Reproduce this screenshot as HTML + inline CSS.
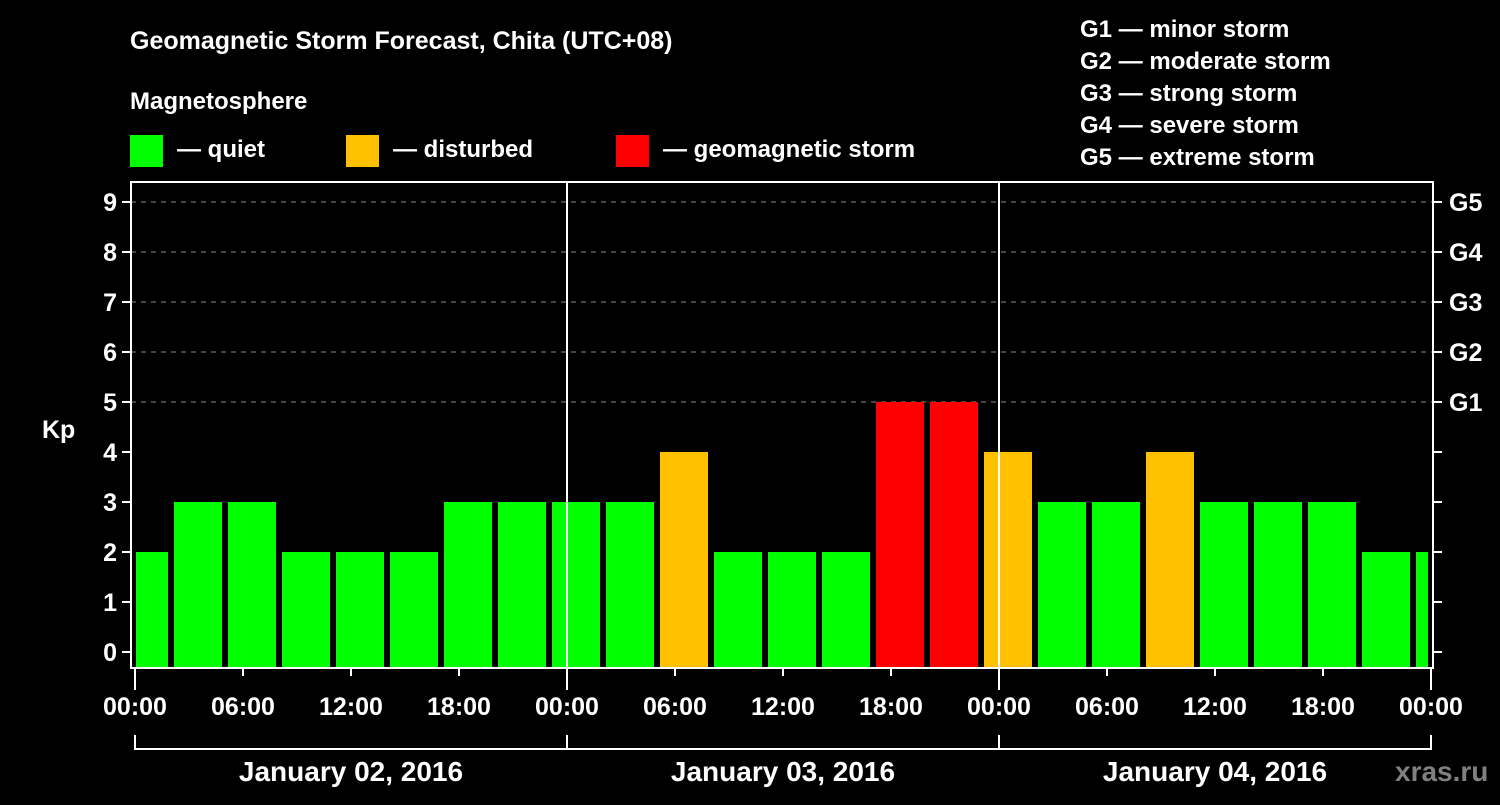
<!DOCTYPE html>
<html><head><meta charset="utf-8"><style>
body{margin:0;background:#000;}
svg text{font-family:"Liberation Sans",Arial,sans-serif;font-weight:bold;fill:#fff;}
</style></head><body>
<svg id="c" width="1500" height="800" viewBox="0 0 1500 800" xmlns="http://www.w3.org/2000/svg">
<rect width="1500" height="800" fill="#000"/>
<text x="130" y="49" font-size="25">Geomagnetic Storm Forecast, Chita (UTC+08)</text>
<text x="130" y="109" font-size="24">Magnetosphere</text>
<g><rect x="130" y="135" width="33" height="32" fill="#00ff00"/><text x="177" y="157" font-size="24">— quiet</text></g>
<g><rect x="346" y="135" width="33" height="32" fill="#ffc000"/><text x="393" y="157" font-size="24">— disturbed</text></g>
<g><rect x="616" y="135" width="33" height="32" fill="#ff0000"/><text x="663" y="157" font-size="24">— geomagnetic storm</text></g>
<g font-size="24">
<text x="1080" y="37">G1 — minor storm</text>
<text x="1080" y="69">G2 — moderate storm</text>
<text x="1080" y="101">G3 — strong storm</text>
<text x="1080" y="133">G4 — severe storm</text>
<text x="1080" y="165">G5 — extreme storm</text>
</g>
<text x="42" y="438" font-size="25">Kp</text>
<g id="grid"></g><g id="bars"></g><g id="axes"></g>
<text x="1395" y="781" font-size="28" style="fill:#808080">xras.ru</text>
</svg>
<script>
const kpValues=[2,3,3,2,2,2,3,3,3,3,4,2,2,2,5,5,4,3,3,4,3,3,3,2,2];
const startHour=-1;
const dayLabels=["January 02, 2016","January 03, 2016","January 04, 2016"];
const gLabels=["G1","G2","G3","G4","G5"];
const xTickLabels=["00:00","06:00","12:00","18:00","00:00","06:00","12:00","18:00","00:00","06:00","12:00","18:00","00:00"];
const NS="http://www.w3.org/2000/svg";
const X0=135,PX=18,Y0=652,PY=50,L=131,R=1433,T=182,B=668;
const x=h=>X0+h*PX, y=v=>Y0-v*PY;
function mk(p,tag,a){const e=document.createElementNS(NS,tag);for(const k in a)e.setAttribute(k,a[k]);document.getElementById(p).appendChild(e);return e;}
for(let v=0;v<=9;v++){
 if(v>=5){const g=mk('grid','line',{x1:L,x2:R,y1:y(v),y2:y(v),stroke:'#888','stroke-dasharray':'5,5'});}
 const t=mk('axes','line',{x1:L-9,x2:L,y1:y(v),y2:y(v),stroke:'#fff','stroke-width':2});
 
 const t2=mk('axes','line',{x1:R,x2:R+9,y1:y(v),y2:y(v),stroke:'#fff','stroke-width':2});
 
 const lb=mk('axes','text',{x:L-14,y:y(v)+9,'font-size':25,'text-anchor':'end'});lb.textContent=v;
 
 if(v>=5){const gl=mk('axes','text',{x:R+16,y:y(v)+9,'font-size':25});gl.textContent=gLabels[v-5];
 }
}
kpValues.forEach((v,i)=>{
 const h=startHour+i*3;let x1=x(h)+3,x2=x(h+3)-3;
 x1=Math.max(x1,X0+1);x2=Math.min(x2,R-5);
 const c=v>=5?'#ff0000':(v>=4?'#ffc000':'#00ff00');
 const b=mk('bars','rect',{x:x1,y:y(v),width:x2-x1,height:B-y(v),fill:c});
 
});
[1,2].forEach(d=>{const l=mk('axes','line',{x1:x(d*24),x2:x(d*24),y1:T,y2:B,stroke:'#fff','stroke-width':2});});
const fr=mk('axes','rect',{x:L,y:T,width:R-L,height:B-T,fill:'none',stroke:'#fff','stroke-width':2});

xTickLabels.forEach((s,i)=>{
 const xx=x(i*6),major=i%4==0;
 const t=mk('axes','line',{x1:xx,x2:xx,y1:B,y2:major?690:676,stroke:'#fff','stroke-width':2});
 
 const lb=mk('axes','text',{x:xx,y:715,'font-size':25,'text-anchor':'middle'});lb.textContent=s;
 
});
const br=mk('axes','line',{x1:x(0),x2:x(72),y1:749,y2:749,stroke:'#fff','stroke-width':2});

[0,1,2,3].forEach(d=>{const l=mk('axes','line',{x1:x(d*24),x2:x(d*24),y1:735,y2:750,stroke:'#fff','stroke-width':2});});
dayLabels.forEach((s,d)=>{const lb=mk('axes','text',{x:x(d*24+12),y:781,'font-size':28,'text-anchor':'middle'});lb.textContent=s;
 });
</script>
</body></html>
